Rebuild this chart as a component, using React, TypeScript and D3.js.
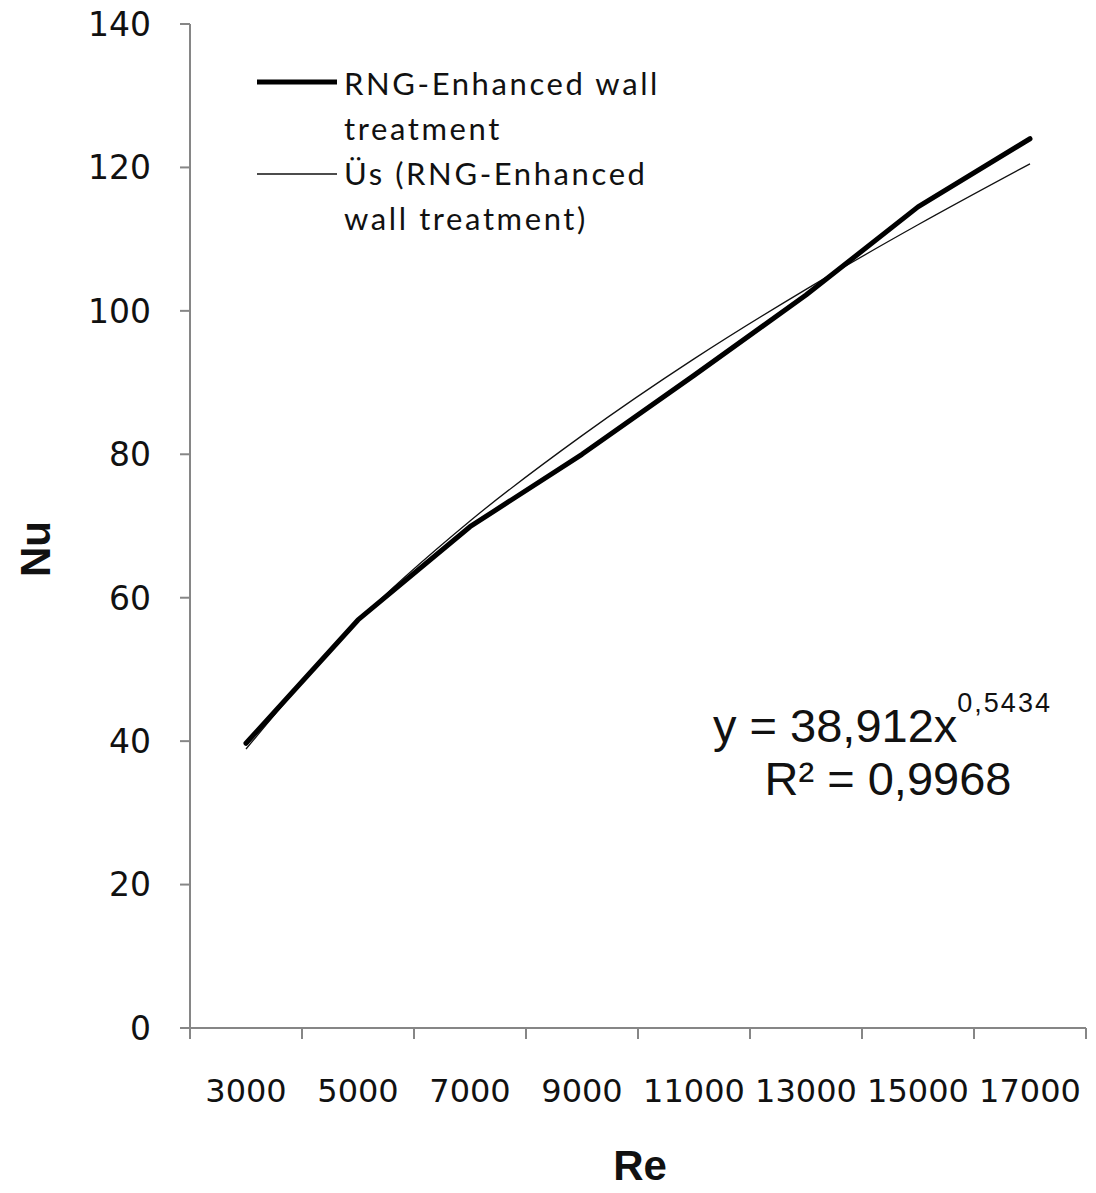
import React from "react";
import * as d3 from "d3";

// Re categories (Excel category axis)
const categories = ["3000", "5000", "7000", "9000", "11000", "13000", "15000", "17000"];
// Nu, RNG-Enhanced wall treatment
const nuValues = [39.7, 56.9, 69.9, 80.0, 91.0, 102.2, 114.5, 124.0];
// power trendline
const trendValues = [38.9, 56.7, 70.7, 82.6, 93.3, 103.0, 112.0, 120.5];
const yTicks = [0, 20, 40, 60, 80, 100, 120, 140];

const width = 1096;
const height = 1193;
const axisColor = "#868686";
const tickFont = "'DejaVu Sans', sans-serif";

export default function App() {
  const x = d3.scaleBand().domain(categories).range([190, 1086]).padding(0);
  const y = d3.scaleLinear().domain([0, 140]).range([1028, 24]);
  const cx = (c: string) => (x(c) as number) + x.bandwidth() / 2;

  const line = d3
    .line<number>()
    .x((d, i) => cx(categories[i]))
    .y((d) => y(d));

  const trend = d3
    .line<number>()
    .x((d, i) => cx(categories[i]))
    .y((d) => y(d))
    .curve(d3.curveMonotoneX);

  const tickEdges = categories.map((c) => x(c) as number).concat([x.range()[1]]);

  return (
    <svg
      width={width}
      height={height}
      style={{ display: "block", background: "#fff", margin: "-8px 0 0 -8px" }}
    >
      {/* y axis */}
      <line x1={190} x2={190} y1={y(140)} y2={y(0)} stroke={axisColor} strokeWidth={2} />
      {yTicks.map((t) => (
        <g key={t}>
          <line x1={180} x2={190} y1={y(t)} y2={y(t)} stroke={axisColor} strokeWidth={2} />
          <text
            x={151}
            y={y(t)}
            dy="0.36em"
            textAnchor="end"
            fontFamily={tickFont}
            fontSize={33}
            fill="#111"
          >
            {t}
          </text>
        </g>
      ))}
      {/* x axis */}
      <line x1={180} x2={1086} y1={y(0)} y2={y(0)} stroke={axisColor} strokeWidth={2} />
      {tickEdges.map((e, i) => (
        <line key={i} x1={e} x2={e} y1={y(0)} y2={y(0) + 11} stroke={axisColor} strokeWidth={2} />
      ))}
      {categories.map((c) => (
        <text
          key={c}
          x={cx(c)}
          y={1102}
          textAnchor="middle"
          fontFamily={tickFont}
          fontSize={32}
          fill="#111"
        >
          {c}
        </text>
      ))}

      {/* series */}
      <path d={trend(trendValues) || ""} fill="none" stroke="#111" strokeWidth={1.3} />
      <path
        d={line(nuValues) || ""}
        fill="none"
        stroke="#000"
        strokeWidth={5}
        strokeLinejoin="round"
        strokeLinecap="round"
      />

      {/* legend */}
      <line x1={257} x2={337} y1={82} y2={82} stroke="#000" strokeWidth={5} />
      <line x1={257} x2={337} y1={174} y2={174} stroke="#111" strokeWidth={1.3} />
      <g fontFamily="Lato, 'Open Sans', sans-serif" fontSize={31} letterSpacing={2.6} fill="#111">
        <text x={344} y={95}>RNG-Enhanced wall</text>
        <text x={344} y={140}>treatment</text>
        <text x={344} y={185}>Üs (RNG-Enhanced</text>
        <text x={344} y={230}>wall treatment)</text>
      </g>

      {/* trendline equation */}
      <g fontFamily="'Liberation Sans', Arial, sans-serif" fill="#111">
        <text x={713} y={742} fontSize={47}>
          y = 38,912x
          <tspan fontSize={27} dy={-30} letterSpacing={2}>
            0,5434
          </tspan>
        </text>
        <text x={888} y={795} fontSize={47} textAnchor="middle">
          R² = 0,9968
        </text>
      </g>

      {/* axis titles */}
      <text
        transform="translate(50,549) rotate(-90)"
        textAnchor="middle"
        fontFamily="'Liberation Sans', Arial, sans-serif"
        fontWeight="bold"
        fontSize={42}
        fill="#111"
      >
        Nu
      </text>
      <text
        x={640}
        y={1180}
        textAnchor="middle"
        fontFamily="'Liberation Sans', Arial, sans-serif"
        fontWeight="bold"
        fontSize={42}
        fill="#111"
      >
        Re
      </text>
    </svg>
  );
}
